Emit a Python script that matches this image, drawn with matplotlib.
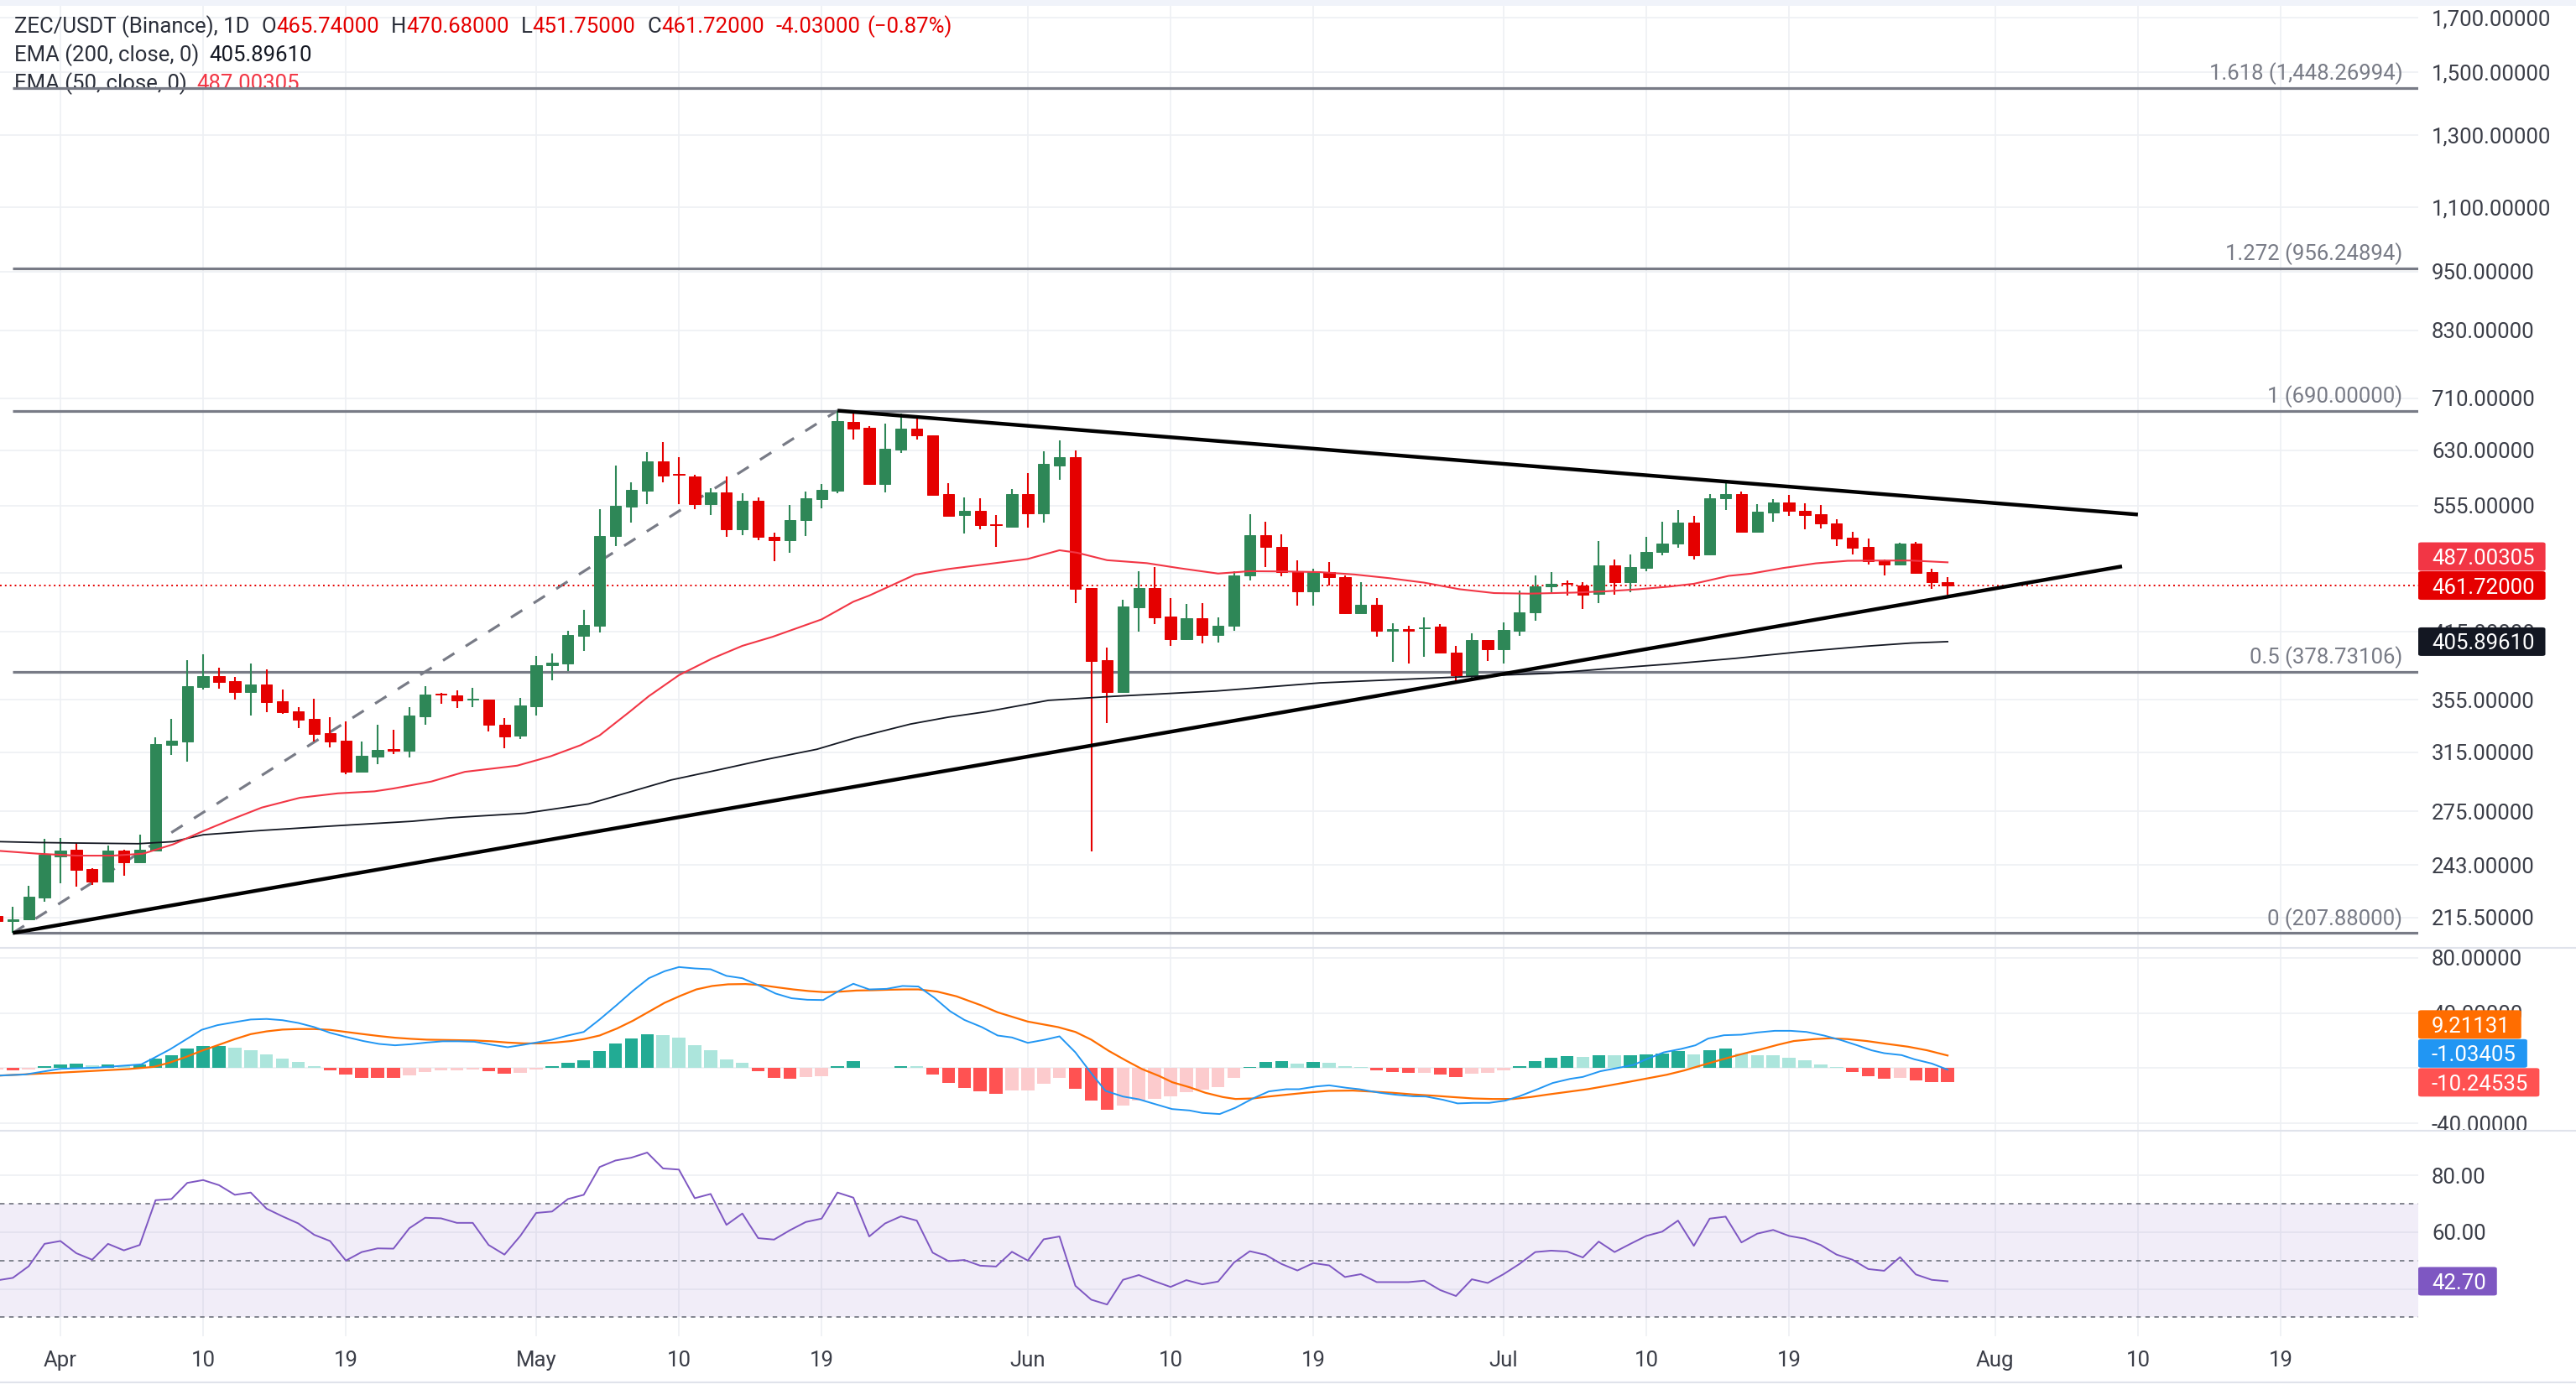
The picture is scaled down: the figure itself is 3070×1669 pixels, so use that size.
import numpy as np
import pandas as pd
import matplotlib
matplotlib.use("Agg")
import matplotlib.pyplot as plt
from matplotlib.patches import FancyBboxPatch, Rectangle
from matplotlib.lines import Line2D
from matplotlib.ticker import FixedLocator, NullLocator

plt.rcParams['font.family'] = ['Roboto', 'DejaVu Sans']

# ---------------- data ----------------
dates = pd.date_range("2025-03-28", "2025-07-29", freq="D")

opens = [216.0, 213.5, 214.5, 225.5, 248.0, 251.5, 240.9, 234.0, 251.2, 244.7,
         251.2, 320.4, 322.7, 365.7, 375.0, 370.9, 361.5, 367.8, 353.9, 345.9,
         339.9, 329.0, 323.1, 301.0, 311.8, 317.0, 316.0, 341.9, 359.9, 358.5,
         355.2, 355.0, 335.5, 327.3, 350.1, 384.3, 386.1, 411.4, 420.7, 517.0,
         553.6, 574.1, 613.8, 596.5, 593.2, 557.1, 571.6, 525.0, 560.7, 516.0,
         512.0, 536.2, 563.6, 574.1, 671.9, 663.4, 583.4, 630.7, 662.2, 652.2,
         569.7, 542.4, 548.3, 531.5, 528.7, 569.7, 544.8, 608.7, 619.7, 459.2,
         389.2, 361.6, 439.5, 459.2, 430.1, 407.9, 428.0, 412.1, 420.7, 472.3,
         518.2, 504.1, 476.9, 455.4, 476.2, 470.7, 433.4, 441.6, 416.4, 418.0,
         418.4, 419.9, 395.5, 375.9, 407.3, 399.0, 416.4, 433.9, 461.0, 464.6,
         461.6, 452.7, 483.4, 465.1, 480.6, 498.5, 508.2, 533.3, 495.4, 564.0,
         569.9, 522.5, 546.5, 558.6, 548.3, 543.6, 532.3, 515.5, 504.4, 489.7,
         485.0, 508.2, 476.0, 465.74]
highs = [218.0, 220.8, 231.7, 258.1, 258.6, 255.6, 241.4, 254.0, 251.5, 260.6,
         325.6, 340.1, 389.2, 394.2, 382.3, 374.5, 386.2, 380.5, 363.8, 349.4,
         355.7, 341.2, 337.9, 322.7, 335.6, 331.5, 349.0, 366.8, 361.0, 362.6,
         364.9, 355.5, 340.6, 356.6, 392.5, 394.7, 415.9, 436.8, 550.1, 607.9,
         585.3, 626.7, 641.9, 619.6, 595.1, 577.8, 592.8, 570.8, 565.0, 521.0,
         555.4, 572.7, 582.7, 690.0, 687.2, 666.4, 669.8, 685.9, 682.8, 652.5,
         583.8, 565.4, 564.3, 543.1, 576.0, 597.7, 628.7, 644.5, 629.6, 459.5,
         400.4, 446.7, 476.9, 481.8, 448.7, 442.5, 443.7, 429.5, 477.2, 543.8,
         534.5, 519.2, 489.4, 480.2, 487.1, 473.0, 465.6, 448.7, 423.6, 420.7,
         429.5, 422.8, 402.3, 413.6, 407.5, 424.2, 456.4, 472.3, 476.0, 466.7,
         465.1, 511.2, 490.0, 496.0, 516.5, 534.7, 549.0, 541.6, 569.5, 588.0,
         573.1, 556.8, 563.3, 568.7, 557.8, 555.3, 537.5, 522.2, 514.1, 490.0,
         509.2, 510.5, 480.3, 470.68]
lows = [212.0, 207.88, 214.2, 223.4, 232.9, 231.4, 232.2, 233.7, 237.2, 244.5,
        250.5, 313.0, 307.9, 363.8, 364.3, 355.2, 342.7, 345.1, 344.0, 333.0,
        322.7, 318.6, 299.5, 300.8, 306.5, 313.8, 311.3, 335.1, 351.6, 348.5,
        349.4, 330.2, 318.0, 324.8, 342.7, 371.6, 379.2, 397.0, 414.6, 505.1,
        533.8, 556.1, 585.6, 556.1, 550.1, 542.4, 516.0, 518.6, 512.3, 488.0,
        497.4, 517.0, 551.8, 570.5, 645.6, 581.9, 572.3, 625.5, 645.6, 567.9,
        541.4, 520.3, 525.0, 504.5, 527.7, 527.7, 533.5, 588.2, 443.1, 250.6,
        336.8, 361.0, 415.0, 422.8, 402.3, 407.5, 404.3, 405.1, 416.4, 467.1,
        481.8, 471.3, 440.7, 440.7, 461.7, 432.4, 433.0, 410.7, 387.8, 386.0,
        392.3, 394.7, 368.4, 370.4, 388.6, 386.0, 411.3, 425.7, 455.1, 451.3,
        437.9, 443.5, 451.9, 455.1, 477.5, 494.7, 503.4, 490.6, 494.7, 549.7,
        522.0, 522.0, 535.0, 542.0, 525.8, 526.5, 506.0, 496.3, 484.4, 472.9,
        484.5, 474.5, 457.8, 451.75]
closes = [213.5, 214.7, 225.8, 248.6, 251.2, 240.4, 234.1, 251.2, 244.7, 251.5,
          321.1, 323.1, 366.4, 375.0, 370.2, 361.5, 367.8, 353.2, 345.1, 339.5,
          328.6, 322.9, 301.0, 312.3, 316.6, 316.2, 342.3, 359.2, 359.2, 354.5,
          355.7, 335.3, 326.7, 350.5, 384.3, 387.0, 411.9, 421.5, 517.6, 554.6,
          575.2, 613.8, 594.7, 595.1, 557.1, 571.6, 525.0, 560.7, 516.0, 512.0,
          536.9, 564.3, 575.2, 673.2, 662.6, 582.7, 631.5, 662.2, 651.8, 569.0,
          542.1, 548.3, 530.4, 530.4, 569.7, 544.8, 610.3, 619.7, 458.6, 388.6,
          361.6, 440.1, 459.2, 429.5, 407.9, 428.0, 412.1, 420.7, 472.3, 518.2,
          504.1, 476.2, 455.4, 476.2, 470.4, 433.4, 441.6, 415.8, 418.0, 416.4,
          419.5, 395.5, 375.9, 407.3, 399.0, 417.0, 433.9, 461.1, 463.6, 463.6,
          451.9, 483.4, 465.1, 481.9, 498.5, 508.2, 533.3, 494.7, 564.3, 569.9,
          522.5, 547.2, 558.6, 547.9, 543.0, 532.3, 514.8, 504.0, 488.1, 485.0,
          508.2, 475.7, 465.75, 461.72]

# EMA samples: day offset from Apr 1, value
ema50_days = [-3.8, -1.4, 1, 3.3, 5.2, 7.1, 9, 10.8, 12.7, 15.1, 17.5, 19.8, 21, 23.4,
              25.5, 28.8, 30.9, 32.8, 34, 35.9, 37.1, 39, 41.1, 43, 44.9, 48, 50, 51,
              53.9, 56, 58.8, 61, 63, 64.1, 66, 68.5, 70.6, 73, 75, 77.2, 79.4, 81.6,
              83.8, 86, 88.2, 90.4, 92.6, 95.5, 97.5, 99.5, 101.5, 103, 105.2, 106.6,
              108.6, 110.7, 112.7, 114.7, 116.7, 119]
ema50_vals = [251.0, 249.4, 248.3, 248.3, 249.4, 254.8, 262.7, 269.9, 277.3, 283.6, 286.5,
              287.8, 289.7, 294.4, 301.0, 305.3, 311.9, 320.0, 327.3, 345.6, 358.1, 375.8,
              390.5, 402.0, 410.4, 427.2, 444.9, 451.2, 473.5, 479.6, 485.8, 490.8, 500.7,
              497.9, 489.4, 486.1, 480.4, 474.6, 477.2, 476.9, 476.2, 473.6, 469.6, 464.8,
              457.9, 453.8, 453.2, 454.3, 455.7, 457.8, 460.7, 463.6, 472.1, 474.5, 480.6,
              485.9, 488.7, 489.0, 489.0, 487.00305]
ema200_days = [-3.8, -1.4, 1, 4.9, 7.1, 9, 12.7, 17.5, 22.2, 24.5, 29.3, 33.3, 38.5, 41.8,
               44.2, 47.7, 50.1, 53.6, 56, 58.4, 62.3, 66.3, 72.9, 79.4, 86, 90.4, 94,
               97.5, 101.5, 105.6, 109.6, 113.7, 116.7, 119]
ema200_vals = [256.4, 255.9, 255.6, 255.2, 256.4, 260.5, 263.1, 266.0, 268.7, 270.8, 273.7,
               279.6, 295.4, 303.1, 309.0, 317.0, 325.3, 335.9, 341.3, 345.6, 354.7, 357.9,
               362.4, 369.2, 373.0, 375.6, 377.5, 381.4, 385.6, 390.6, 396.4, 401.5, 404.6,
               405.8961]

# MACD histogram, one per candle
macd_hist = [-1.2, -1.6, -1.0, 1.2, 3.0, 3.1, 2.4, 3.0, 1.8, 3.0,
             7.1, 9.7, 14.0, 15.8, 16.0, 14.8, 12.8, 10.3, 7.1, 4.3,
             1.2, -1.6, -4.7, -6.9, -7.0, -7.1, -5.3, -2.8, -1.6, -1.5,
             -1.0, -2.2, -3.8, -3.4, -1.2, 1.2, 3.8, 5.7, 12.4, 17.8,
             21.5, 24.9, 24.1, 22.1, 16.6, 12.8, 6.3, 3.8, -2.2, -7.1,
             -7.7, -6.1, -6.0, 1.2, 4.9, 0.4, 0.35, 1.8, 1.7, -4.7,
             -10.7, -14.4, -17.0, -18.8, -16.4, -16.2, -11.5, -7.1, -15.2, -23.7,
             -30.4, -27.3, -23.3, -21.9, -20.5, -17.6, -15.8, -13.4, -7.3, 0.8,
             4.3, 4.9, 3.6, 4.3, 4.2, 1.8, 0.6, -1.6, -3.0, -3.6,
             -3.5, -4.3, -6.1, -4.1, -3.4, -1.6, 1.8, 4.9, 7.3, 8.5,
             7.9, 9.7, 9.1, 9.3, 10.3, 10.9, 12.4, 10.3, 12.8, 14.0,
             10.9, 9.7, 9.1, 7.3, 5.5, 3.0, 0.6, -2.8, -5.9, -7.7,
             -7.1, -8.9, -10.1, -10.24535]
macd_days = [-3.8, -2.2, 0.0, 2.3, 5.1, 5.9, 6.9, 7.9, 8.9, 9.9, 11.0, 12.0, 13.0, 14.0,
             15.0, 16.0, 17.0, 18.0, 19.1, 20.1, 21.1, 22.1, 23.1, 24.1, 25.1, 26.1, 27.2,
             28.2, 29.2, 30.2, 31.0, 32.0, 33.0, 34.0, 35.1, 36.1, 37.1, 38.1, 39.0, 40.0,
             41.0, 42.0, 43.0, 44.0, 45.1, 46.1, 47.1, 48.1, 49.1, 50.0, 51.0, 52.1, 53.1,
             54.1, 55.1, 56.1, 57.0, 58.1, 59.1, 60.0, 61.0, 62.1, 63.0, 64.0, 65.0, 65.9,
             67.0, 68.0, 69.0, 70.1, 71.2, 72.0, 73.1, 74.1, 75.2, 76.2, 77.3, 78.1, 79.2,
             80.0, 81.1, 81.9, 83.2, 84.2, 85.3, 86.1, 87.2, 88.1, 89.1, 90.1, 91.1, 92.0,
             93.1, 94.1, 95.2, 96.0, 97.1, 98.2, 99.2, 100.0, 101.1, 102.2, 103.1, 103.9,
             104.9, 106.0, 107.0, 108.1, 109.1, 110.1, 111.2, 112.3, 113.3, 114.2, 115.0,
             116.1, 116.9, 118.0, 119.0]
macd_vals = [-5.3, -4.5, -0.4, 0.4, 2.8, 7.5, 13.6, 20.7, 27.8, 31.2, 33.4, 35.3, 35.7, 34.8,
             32.8, 29.8, 25.7, 22.7, 19.7, 17.6, 16.6, 17.4, 18.6, 19.5, 19.5, 19.2, 17.0,
             15.2, 17.0, 19.0, 20.7, 23.7, 26.3, 35.3, 46.0, 56.1, 65.2, 70.3, 73.3, 72.3,
             71.7, 66.9, 65.2, 60.2, 54.1, 50.7, 49.6, 49.4, 56.1, 61.2, 57.1, 57.5, 59.6,
             59.2, 51.1, 41.3, 35.0, 29.8, 23.7, 22.3, 18.4, 20.7, 23.1, 11.5, -3.6, -16.4,
             -20.5, -22.5, -25.9, -29.6, -30.6, -32.4, -33.2, -28.6, -21.9, -16.8, -15.2,
             -15.2, -13.2, -12.4, -14.2, -15.2, -17.8, -19.2, -20.3, -20.5, -22.9, -25.5,
             -25.1, -25.1, -23.5, -20.3, -15.4, -10.7, -7.7, -6.3, -2.2, 0.2, 2.4, 6.5, 11.5,
             14.0, 16.6, 21.5, 23.9, 24.3, 25.9, 27.1, 27.1, 26.3, 23.7, 20.3, 16.6, 13.0,
             10.9, 9.5, 6.5, 3.4, -1.03405]
signal_days = [-3.8, 0.0, 4.3, 5.9, 6.9, 7.9, 8.9, 9.9, 11.0, 12.0, 13.0, 14.0, 15.0, 16.0,
               17.0, 18.0, 19.1, 20.1, 21.1, 22.1, 23.1, 24.1, 25.1, 26.1, 27.2, 28.2, 29.2,
               30.2, 31.2, 32.2, 33.0, 34.0, 35.1, 36.1, 37.1, 38.1, 39.1, 40.1, 41.1, 42.1,
               43.2, 44.2, 45.2, 46.2, 47.2, 48.2, 49.2, 50.2, 51.2, 52.3, 53.3, 54.1, 55.3,
               56.5, 57.0, 58.1, 59.1, 61.0, 62.9, 64.0, 65.0, 66.1, 67.2, 68.2, 69.3, 70.1,
               71.2, 72.2, 73.3, 74.1, 75.2, 76.2, 77.3, 78.5, 80.0, 81.5, 82.8, 84.0, 85.3,
               86.6, 87.8, 89.1, 90.3, 91.6, 92.7, 93.7, 95.0, 96.3, 97.5, 98.8, 100.1, 101.3,
               102.4, 103.4, 104.7, 105.9, 107.2, 108.3, 109.3, 110.6, 111.6, 112.7, 113.9,
               115.2, 116.5, 117.7, 119.0]
signal_vals = [-5.3, -3.2, -0.6, 1.0, 4.1, 8.1, 12.6, 16.6, 21.1, 24.7, 26.7, 28.0, 28.4,
               28.4, 27.8, 26.3, 24.7, 23.3, 22.1, 21.3, 20.7, 20.5, 20.3, 20.1, 19.5, 18.6,
               18.0, 18.0, 18.6, 19.7, 21.1, 23.7, 28.8, 34.4, 40.9, 47.4, 52.5, 57.1, 59.6,
               60.8, 61.0, 60.2, 58.6, 57.1, 55.9, 55.1, 55.5, 56.3, 56.5, 56.9, 57.1, 57.1,
               55.5, 52.1, 50.0, 45.4, 40.5, 33.8, 29.8, 26.3, 20.7, 12.6, 5.5, -0.6, -5.7,
               -10.1, -13.8, -17.8, -20.9, -22.3, -21.9, -20.5, -19.2, -17.8, -16.4, -16.2,
               -17.0, -17.8, -19.0, -19.9, -20.9, -21.9, -22.3, -22.3, -20.9, -19.2, -17.2,
               -15.2, -12.8, -10.1, -7.3, -4.7, -1.6, 1.8, 6.1, 9.9, 13.6, 17.0, 19.7, 21.1,
               21.7, 21.1, 19.7, 17.6, 15.6, 13.0, 9.21131]

rsi_vals = [43.0, 43.9, 48.0, 55.9, 56.9, 52.6, 50.3, 55.9, 53.6, 55.5,
            71.3, 71.7, 77.4, 78.4, 76.6, 73.2, 74.0, 68.3, 65.6, 63.1,
            59.1, 56.9, 50.0, 53.0, 54.3, 54.2, 61.4, 65.1, 64.9, 63.3,
            63.3, 55.5, 52.1, 58.7, 66.8, 67.3, 71.7, 73.2, 83.0, 85.3,
            86.3, 88.1, 82.5, 82.1, 72.0, 73.5, 62.6, 66.6, 57.9, 57.4,
            60.7, 63.6, 64.8, 74.0, 72.2, 58.5, 63.1, 65.6, 64.1, 52.8,
            49.8, 50.2, 48.2, 47.9, 53.1, 50.0, 57.5, 58.5, 41.1, 36.2,
            34.5, 43.2, 44.9, 42.7, 40.7, 43.1, 41.6, 42.6, 49.3, 53.3,
            52.0, 48.8, 46.5, 49.1, 48.3, 44.2, 45.2, 42.4, 42.4, 42.4,
            42.9, 39.6, 37.5, 43.4, 42.1, 45.2, 48.8, 53.0, 53.5, 53.2,
            51.1, 56.7, 53.0, 55.9, 58.7, 60.2, 64.1, 55.2, 64.8, 65.5,
            56.4, 59.5, 60.8, 58.7, 57.7, 55.5, 52.1, 50.3, 47.0, 46.4,
            51.2, 45.1, 43.2, 42.70]

fib_prices = [207.88, 378.73106, 690.0, 956.24894, 1448.26994]
fib_labels = ["0 (207.88000)", "0.5 (378.73106)", "1 (690.00000)",
              "1.272 (956.24894)", "1.618 (1,448.26994)"]
fib_start = "2025-03-29"
upper_tl_dates = ["2025-05-20", "2025-08-10"]
upper_tl_prices = [690.0, 543.5]
lower_tl_dates = ["2025-03-29", "2025-08-09"]
lower_tl_prices = [207.88, 482.5]
fib_tl_dates = ["2025-03-29", "2025-05-20"]
fib_tl_prices = [207.88, 690.0]

last_close = 461.72
ema50_last = 487.00305
ema200_last = 405.89610
macd_last, signal_last, hist_last = -1.03405, 9.21131, -10.24535
rsi_last = 42.70

price_ticks = [215.5, 243, 275, 315, 355, 415, 475, 555, 630, 710, 830, 950, 1100, 1300, 1500, 1700]
price_hidden = [475]          # label fully covered by value tags
macd_ticks = [80, 40, 0, -40]
macd_hidden = [0]
rsi_ticks = [80, 60, 40]
rsi_hidden = [40]
date_ticks = ["2025-04-01", "2025-04-10", "2025-04-19", "2025-05-01", "2025-05-10", "2025-05-19",
              "2025-06-01", "2025-06-10", "2025-06-19", "2025-07-01", "2025-07-10", "2025-07-19",
              "2025-08-01", "2025-08-10", "2025-08-19"]
date_labels = ["Apr", "10", "19", "May", "10", "19", "Jun", "10", "19", "Jul", "10", "19",
               "Aug", "10", "19"]

# ---------------- styling ----------------
W, H, DPI = 3070, 1669, 100
FS = 18.5
GREEN, RED = "#2E8757", "#E50000"
GRID = "#EEF0F4"
TXT = "#2A2E39"
AXTXT = "#3B3E48"
FIBC = "#787B86"
T0 = pd.Timestamp("2025-04-01")


def dnum(s):
    return (pd.Timestamp(s) - T0).days


def fy(px):
    return 1 - px / H


AX_R = 2882
PX_PER_DAY = 18.9
X0_PX = 72
xmin = -X0_PX / PX_PER_DAY
xmax = (AX_R - X0_PX) / PX_PER_DAY

fig = plt.figure(figsize=(W / DPI, H / DPI), dpi=DPI, facecolor="white")
ax_main = fig.add_axes([0, fy(1130), AX_R / W, (1130 - 7) / H])
ax_macd = fig.add_axes([0, fy(1348), AX_R / W, (1348 - 1130) / H], sharex=ax_main)
ax_rsi = fig.add_axes([0, fy(1593), AX_R / W, (1593 - 1348) / H], sharex=ax_main)

xs = np.array((dates - T0).days, dtype=float)
o, hh, ll, c = map(np.array, (opens, highs, lows, closes))

for ax in (ax_main, ax_macd, ax_rsi):
    ax.set_facecolor("white")
    for s in ax.spines.values():
        s.set_visible(False)
    ax.set_xlim(xmin, xmax)
    ax.set_xticks([dnum(d) for d in date_ticks])
    ax.grid(True, color=GRID, lw=1.2, zorder=0)
    ax.set_axisbelow(True)
    ax.tick_params(axis="both", length=0, labelsize=FS, colors=AXTXT)
    ax.yaxis.tick_right()
    ax.tick_params(axis="y", pad=11.5)


def lab(v, fmt, hidden):
    return "" if v in hidden else fmt.format(v)


# ---------------- main pane ----------------
ax_main.set_yscale("log")
ax_main.set_ylim(200.9, 1748)
ax_main.yaxis.set_major_locator(FixedLocator(price_ticks))
ax_main.yaxis.set_minor_locator(NullLocator())
ax_main.set_yticklabels([lab(v, "{:,.5f}", price_hidden) for v in price_ticks])
ax_main.tick_params(axis="x", labelbottom=False)

cols = np.where(c >= o, GREEN, RED)
ax_main.vlines(xs, ll, hh, colors=cols, lw=1.5, zorder=3)
bot = np.minimum(o, c)
top = np.maximum(o, c)
ax_main.bar(xs, top - bot, bottom=bot, width=0.7, color=cols, edgecolor=cols,
            linewidth=0.7, zorder=4)

ax_main.plot(ema200_days, ema200_vals, color="#131722", lw=1.3, zorder=5)
ax_main.plot(ema50_days, ema50_vals, color="#F23645", lw=1.5, zorder=5)

# fib levels
fs_day = dnum(fib_start)
for p, lb in zip(fib_prices, fib_labels):
    ax_main.plot([fs_day, xmax], [p, p], color=FIBC, lw=2.3, zorder=2, solid_capstyle="butt")
    ax_main.annotate(lb, xy=(1.0, p), xycoords=("axes fraction", "data"),
                     xytext=(-13.5, 7.0), textcoords="offset points",
                     ha="right", va="baseline", color=FIBC, fontsize=FS, zorder=2)

ax_main.plot([dnum(d) for d in fib_tl_dates], fib_tl_prices, color=FIBC, lw=2.3,
             ls=(0, (5, 5)), zorder=2)
ax_main.plot([dnum(d) for d in upper_tl_dates], upper_tl_prices, color="black", lw=3.2,
             zorder=6, solid_capstyle="butt")
ax_main.plot([dnum(d) for d in lower_tl_dates], lower_tl_prices, color="black", lw=3.2,
             zorder=6, solid_capstyle="butt")
ax_main.axhline(last_close, color=RED, lw=1.4, ls=(0, (1, 2)), zorder=2.5)

# ---------------- MACD pane ----------------
ax_macd.set_ylim(-45.3, 87.2)
ax_macd.set_yticks(macd_ticks)
ax_macd.set_yticklabels([lab(v, "{:.5f}", macd_hidden) for v in macd_ticks])
ax_macd.tick_params(axis="x", labelbottom=False)
hist = np.array(macd_hist)
prev = np.concatenate([[hist[0]], hist[:-1]])
hcol = np.where(hist >= 0, np.where(hist > prev, "#22AB94", "#ACE5DC"),
                np.where(hist < prev, "#FF5252", "#FCCBCD"))
ax_macd.bar(xs, hist, width=0.82, color=hcol, zorder=2)
ax_macd.plot(signal_days, signal_vals, color="#FF6D00", lw=1.6, zorder=3)
ax_macd.plot(macd_days, macd_vals, color="#2196F3", lw=1.4, zorder=4)

# ---------------- RSI pane ----------------
ax_rsi.set_ylim(23.3, 95.8)
ax_rsi.set_yticks(rsi_ticks)
ax_rsi.set_yticklabels([lab(v, "{:.2f}", rsi_hidden) for v in rsi_ticks])
ax_rsi.axhspan(30, 70, color="#7E57C2", alpha=0.1, lw=0, zorder=1)
for lvl in (70, 50, 30):
    ax_rsi.axhline(lvl, color=FIBC, lw=1.3, ls=(0, (3, 3)), zorder=2)
ax_rsi.plot(xs, rsi_vals, color="#7E57C2", lw=1.4, zorder=3)
ax_rsi.set_xticklabels(date_labels)
ax_rsi.tick_params(axis="x", pad=12, labelsize=FS, colors=AXTXT)

# separators / borders
for ypx in (1130, 1348):
    fig.add_artist(Line2D([0, 1], [fy(ypx)] * 2, transform=fig.transFigure,
                          color="#E0E3EB", lw=1.5))
fig.add_artist(Line2D([0, 1], [fy(1648)] * 2, transform=fig.transFigure, color="#E0E3EB", lw=1.5))
fig.add_artist(Rectangle((0, fy(7)), 1, 7 / H, transform=fig.transFigure,
                         color="#F0F3FA", lw=0))

fig.canvas.draw()
renderer = fig.canvas.get_renderer()


def seq_text(y_px, pieces, x_px=17):
    x = x_px
    for s, col, gap in pieces:
        x += gap
        t = ax_main.text(x / W, fy(y_px), s, transform=fig.transFigure, color=col,
                         fontsize=FS, ha="left", va="center", zorder=1.5, clip_on=False)
        bb = t.get_window_extent(renderer)
        x = bb.x1


seq_text(32, [("ZEC/USDT (Binance), 1D", TXT, 0), ("O", TXT, 14), ("465.74000", RED, 0),
              ("H", TXT, 14), ("470.68000", RED, 0), ("L", TXT, 14), ("451.75000", RED, 0),
              ("C", TXT, 14), ("461.72000", RED, 0), ("-4.03000", RED, 14),
              ("(\u22120.87%)", RED, 8)])
seq_text(66, [("EMA (200, close, 0)", TXT, 0), ("405.89610", "#131722", 12)])
seq_text(100, [("EMA (50, close, 0)", TXT, 0), ("487.00305", "#F23645", 12)])
seq_text(1164, [("MACD (12, 26, close, 9)", TXT, 0), ("-10.24535", "#FF5252", 14),
                ("-1.03405", "#2196F3", 14), ("9.21131", "#FF6D00", 14)])
seq_text(1382, [("RSI (14)", TXT, 0), ("42.70", "#7E57C2", 14)])

# right-axis value tags
TAG_H = 34.0
TAG_STEP = 34.5


def add_tags(ax, items):
    pts = []
    for val, txt, col in items:
        yd = ax.transData.transform((0, val))[1]
        pts.append([yd, txt, col])
    pts.sort(key=lambda p: p[0])
    last = -1e9
    for p in pts:
        if p[0] < last + TAG_STEP:
            p[0] = last + TAG_STEP
        last = p[0]
    for yd, txt, col in pts:
        t = fig.text(2898 / W, yd / H, txt, color="white", fontsize=FS, ha="left",
                     va="center_baseline", zorder=11)
        bb = t.get_window_extent(renderer)
        x1 = bb.x1 + 13
        patch = FancyBboxPatch((AX_R / W, (yd - TAG_H / 2) / H), (x1 - AX_R) / W, TAG_H / H,
                               boxstyle="round,pad=0,rounding_size=0.0012",
                               transform=fig.transFigure, fc=col, ec="none", zorder=10)
        fig.add_artist(patch)


add_tags(ax_main, [(ema50_last, f"{ema50_last:.5f}", "#F23645"),
                   (last_close, f"{last_close:.5f}", RED),
                   (ema200_last, f"{ema200_last:.5f}", "#131722")])
add_tags(ax_macd, [(signal_last, f"{signal_last:.5f}", "#FF6D00"),
                   (macd_last, f"{macd_last:.5f}", "#2196F3"),
                   (hist_last, f"{hist_last:.5f}", "#FF5252")])
add_tags(ax_rsi, [(rsi_last, f"{rsi_last:.2f}", "#7E57C2")])

fig.savefig("out.png", dpi=DPI, facecolor="white")
